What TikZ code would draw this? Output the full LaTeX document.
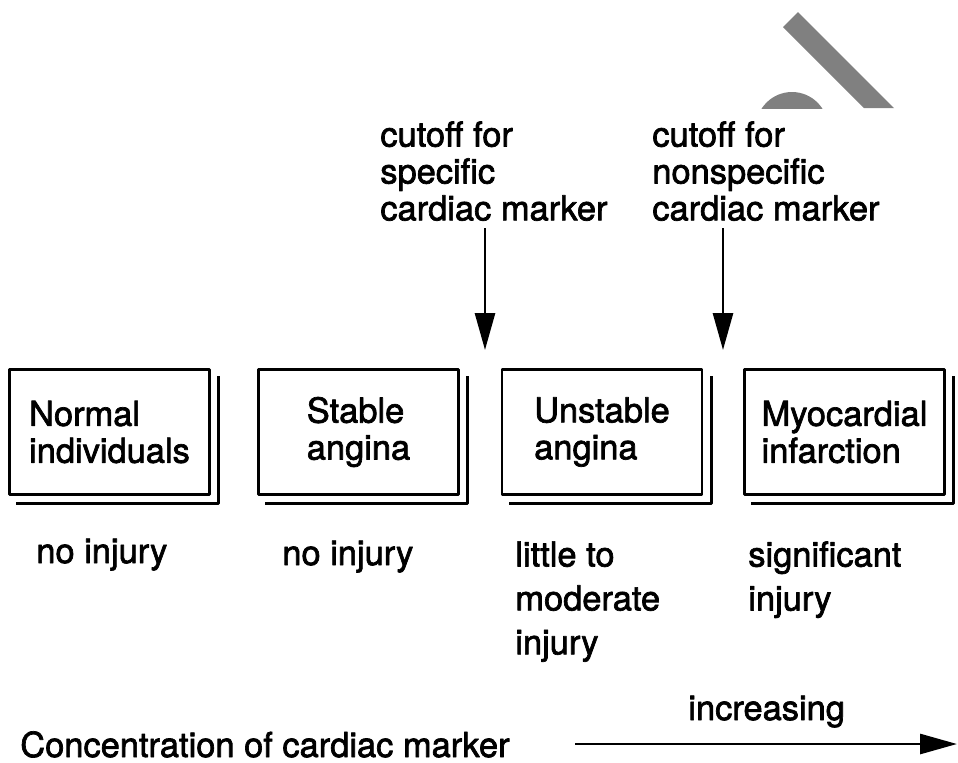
\documentclass[tikz,border=0pt]{standalone}
\usepackage{fontspec}
\setmainfont{TeX Gyre Heros}[FakeBold=2]
\usetikzlibrary{arrows.meta}
\begin{document}
\begin{tikzpicture}[x=0.02cm, y=-0.02cm, font=\fontsize{19.6}{21}\selectfont, line join=round, >={Triangle[length=0.74cm,width=0.4cm]},
	box/.style={draw, line width=1.6pt, minimum width=4cm, minimum height=2.5cm, align=left, inner sep=0pt},
	shade/.style={line width=1.6pt},
	txt/.style={inner sep=0pt, align=left},
	far/.style={txt, font=\fontsize{19.6}{25}\selectfont},
	cut/.style={->, line width=1.6pt}]
	\useasboundingbox (0,0) rectangle (958,762);
	\fill[gray] (783,27) -- (798,12) -- (894,108) -- (864,108) -- cycle;
	\begin{scope}
		\clip (700,0) rectangle (958,108);
		\fill[gray] (792,128) circle (36);
	\end{scope}
	\node[txt, anchor=north west] (spec) at (380,121) {cutoff for\\specific\\cardiac marker};
	\node[txt, anchor=north west] (nonspec) at (652,121) {cutoff for\\nonspecific\\cardiac marker};
	\node[box] (normal) at (109.5,432) {Normal\\individuals};
	\node[box] (stable) at (358.5,432) {Stable\\angina};
	\node[box] (unstable) at (602,432) {Unstable\\angina};
	\node[box] (mi) at (844.5,432) {Myocardial\\infarction};
	\foreach \b in {normal,stable,unstable,mi}
		\draw[shade] ([shift={(8,8)}]\b.north east) |- ([shift={(8,8)}]\b.south west);
	\coordinate (cut1) at (485,228);
	\coordinate (tip1) at (485,350);
	\coordinate (cut2) at (723,228);
	\coordinate (tip2) at (723,350);
	\draw[cut] (cut1) -- (tip1);
	\draw[cut] (cut2) -- (tip2);
	\node[txt, anchor=base west] (inj1) at (36,563) {no injury};
	\node[txt, anchor=base west] (inj2) at (282,565) {no injury};
	\node[far, anchor=north west] (inj3) at (515,541) {little to\\moderate\\injury};
	\node[far, anchor=north west] (inj4) at (748,541) {significant\\injury};
	\node[txt, anchor=base west] (conc) at (20,757) {Concentration of cardiac marker};
	\node[txt, anchor=base west] (incr) at (688,720) {increasing};
	\coordinate (axstart) at (575,744);
	\coordinate (axend) at (957,744);
	\draw[cut] (axstart) -- (axend);
\end{tikzpicture}
\end{document}
